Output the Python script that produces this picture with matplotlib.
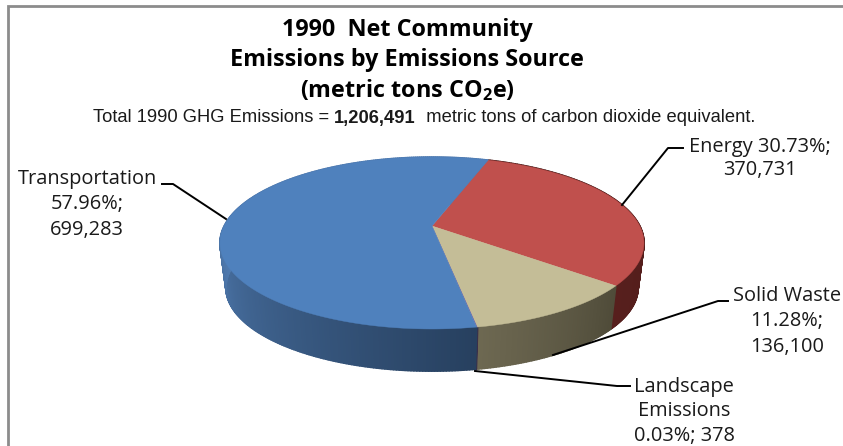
import numpy as np
import matplotlib
matplotlib.use("Agg")
import matplotlib.pyplot as plt
from matplotlib.collections import PolyCollection

# valores
FONTES    = ["Energy", "Solid Waste", "Landscape Emissions", "Transportation"]
VALORES   = [370731, 136100, 378, 699283]
PERCENTS  = [30.73, 11.28, 0.03, 57.96]

COR_TOPO  = ["#C0504D", "#C4BD97", "#8064A2", "#4F81BD"]
# cor da parede: (inicio, fim) ao longo do angulo da fatia
COR_PAREDE = [("#4A1A18", "#571F1D"), ("#4F4B39", "#6E6952"), ("#3A2F4A", "#3A2F4A"), ("#27405F", "#4F7AAF")]

ANGULO_INICIO = 18.7
W, H = 843, 446
FONTE_TITULO = "Open Sans"
FONTE_ROTULO = "Open Sans"

plt.rcParams["mathtext.fontset"] = "custom"
plt.rcParams["mathtext.bf"] = "Open Sans:bold"
plt.rcParams["mathtext.rm"] = "Open Sans"


def projetar(ang, escala=1.0, py=226.0):
    # circulo unitario -> tela, com perspectiva (k) como no pie 3D do Excel
    t = np.radians(ang)
    u, v = np.sin(t), np.cos(t)
    k = 0.198
    x = 432 + escala * 207.8 * u / (1 + k * v)
    y = py - escala * 82.6 * v / (1 + k * v)
    return x, y


def hex_rgb(c):
    return np.array(matplotlib.colors.to_rgb(c))


fig = plt.figure(figsize=(W / 100, H / 100), dpi=100)
ax = fig.add_axes([0, 0, 1, 1])
ax.set_xlim(0, W)
ax.set_ylim(H, 0)
ax.axis("off")

# moldura (so esquerda e topo aparecem)
ax.plot([8, 8, W], [H, 6, 6], color="#8C8C8C", lw=2, solid_joinstyle="miter")

angulos = ANGULO_INICIO + np.cumsum([0] + [v / sum(VALORES) * 360 for v in VALORES])

# paredes
for i in range(len(VALORES)):
    a = np.linspace(angulos[i], angulos[i + 1], max(int((angulos[i + 1] - angulos[i]) * 1.5), 2))
    xt, yt = projetar(a)
    xb, yb = projetar(a, 0.972, 271)
    quads, cores = [], []
    c0, c1 = hex_rgb(COR_PAREDE[i][0]), hex_rgb(COR_PAREDE[i][1])
    for j in range(len(a) - 1):
        quads.append([(xt[j], yt[j]), (xt[j + 1], yt[j + 1]), (xb[j + 1], yb[j + 1]), (xb[j], yb[j])])
        f = min((a[j] - angulos[i]) / (min(angulos[i + 1], 270) - angulos[i]), 1) if i == 3 else j / (len(a) - 1)
        cores.append(c0 + (c1 - c0) * f)
    ax.add_collection(PolyCollection(quads, facecolors=cores, edgecolors=cores, linewidths=1.2))

# topo
for i in range(len(VALORES)):
    a = np.linspace(angulos[i], angulos[i + 1], 300)
    x, y = projetar(a)
    ax.fill(np.r_[432, x], np.r_[226, y], color=COR_TOPO[i], lw=0.3)

# linhas de chamada
chamadas = [
    ([622, 668, 683], [205, 148, 148]),
    ([553, 718, 728], [355, 301, 301]),
    ([475, 617, 630], [371, 386, 386]),
    ([226, 173, 162], [219, 184, 184]),
]
for xs, ys in chamadas:
    ax.plot(xs, ys, color="black", lw=1.4)

# rotulos
rotulos = [
    (760, [147, 170], [f"{FONTES[0]} {PERCENTS[0]:.2f}%;", f"{VALORES[0]:,}"]),
    (787, [296, 321, 347], [FONTES[1], f"{PERCENTS[1]:.2f}%;", f"{VALORES[1]:,}"]),
    (684, [387, 411, 436], ["Landscape", "Emissions", f"{PERCENTS[2]:.2f}%; {VALORES[2]}"]),
    (87, [179, 204, 230], [FONTES[3], f"{PERCENTS[3]:.2f}%;", f"{VALORES[3]:,}"]),
]
for xc, ys, linhas in rotulos:
    for y, txt in zip(ys, linhas):
        ax.text(xc, y, txt, ha="center", va="center", fontsize=14.4,
                family=FONTE_ROTULO, color="#1A1A1A", clip_on=False)

# titulo
titulo = ["1990  Net Community", "Emissions by Emissions Source", r"(metric tons CO$\mathbf{_2}$e)"]
for y, txt in zip([30, 60, 90], titulo):
    ax.text(407, y, txt, ha="center", va="center", fontsize=16.8,
            family=FONTE_TITULO, fontweight="bold", color="black")

# subtitulo
sub = dict(va="center", fontsize=13.2, family="Liberation Sans", color="#1A1A1A")
t1 = ax.text(93, 118, "Total 1990 GHG Emissions = ", ha="left", **sub)
t2 = ax.annotate("1,206,491", xy=(1, 0.5), xycoords=t1, xytext=(0, 0), textcoords="offset points",
                 ha="left", fontweight="bold", **sub)
ax.annotate("  metric tons of carbon dioxide equivalent.", xy=(1, 0.5), xycoords=t2, xytext=(0, 0),
            textcoords="offset points", ha="left", **sub)

fig.savefig("out.png", dpi=100)
